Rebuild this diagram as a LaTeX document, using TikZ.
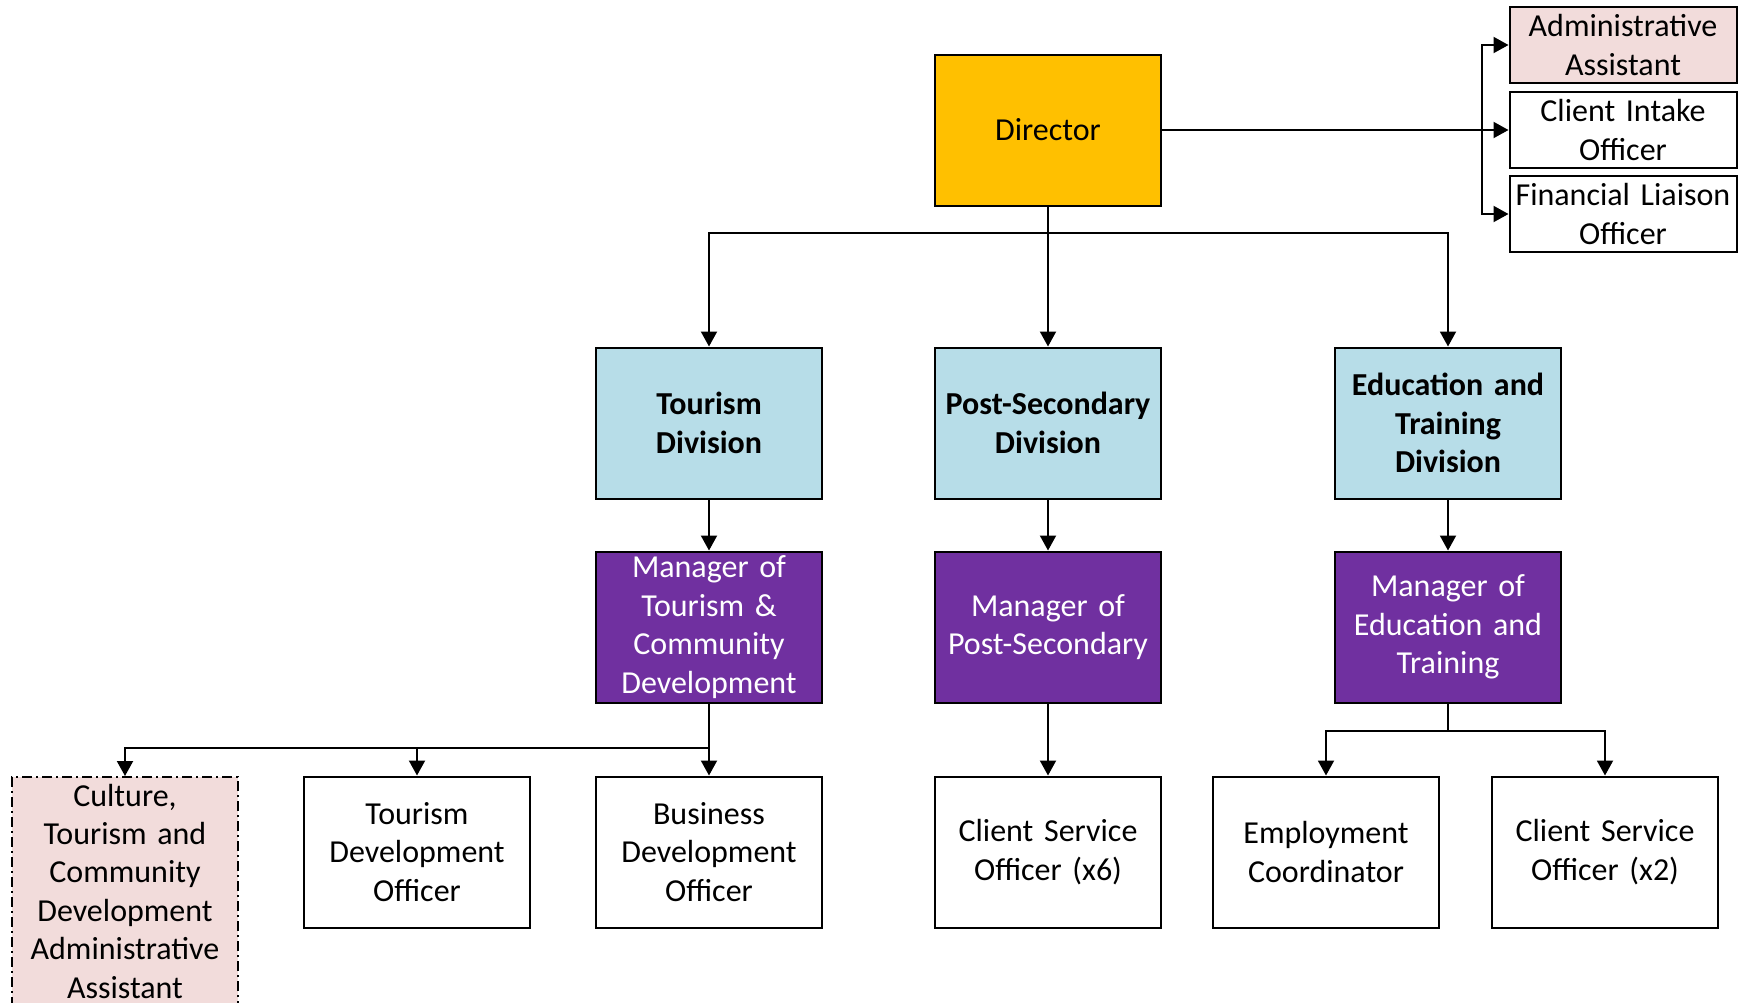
\documentclass[tikz,border=0pt]{standalone}
\usepackage{fontspec}
\setmainfont[WordSpace=0.8]{Carlito}
\usepackage{tikz}
\usetikzlibrary{arrows.meta}

\definecolor{dirgold}{HTML}{FFC000}
\definecolor{divblue}{HTML}{B7DDE8}
\definecolor{mgrpurple}{HTML}{7030A0}
\definecolor{asstpink}{HTML}{F2DCDB}

\begin{document}
\begin{tikzpicture}[x=0.5pt, y=-0.5pt,
    box/.style={draw=black, line width=1pt, minimum width=113pt, minimum height=75.5pt, text width=110pt, align=center, inner sep=0pt, font=\fontsize{16}{19.2}\selectfont},
    sidebox/.style={box, minimum width=113.5pt, minimum height=38pt},
    division/.style={box, fill=divblue, font=\fontsize{16}{19.2}\selectfont\bfseries},
    manager/.style={box, fill=mgrpurple, text=white},
    arr/.style={-{Triangle[length=7.5pt, width=8pt]}, line width=1pt}]
    \clip (0, 0) rectangle (1739, 1002);

    %Nodes
    \node[box, fill=dirgold] at (1048, 130) (dir) {Director};
    \node[sidebox, fill=asstpink] at (1623, 45) (admin) {Administrative\\Assistant};
    \node[sidebox] at (1623, 130) (intake) {Client Intake\\Officer};
    \node[sidebox] at (1623, 214) (fin) {Financial Liaison\\Officer};
    \node[division] at (709, 423) (tdiv) {Tourism\\Division};
    \node[division] at (1048, 423) (pdiv) {Post-Secondary\\Division};
    \node[division] at (1448, 423) (ediv) {Education and\\Training\\Division};
    \node[manager] at (709, 627) (tmgr) {Manager of\\Tourism \&\\Community\\Development};
    \node[manager] at (1048, 627) (pmgr) {Manager of\\Post-Secondary};
    \node[manager] at (1448, 627) (emgr) {Manager of\\Education and\\Training};
    \node[box, fill=asstpink, dash pattern=on 5pt off 2pt on 1pt off 2pt, minimum height=114pt] at (125, 891) (culture) {Culture,\\Tourism and\\Community\\Development\\Administrative\\Assistant};
    \node[box] at (417, 852) (tdev) {Tourism\\Development\\Officer};
    \node[box] at (709, 852) (bdev) {Business\\Development\\Officer};
    \node[box] at (1048, 852) (cso6) {Client Service\\Officer (x6)};
    \node[box] at (1326, 852) (emp) {Employment\\Coordinator};
    \node[box] at (1605, 852) (cso2) {Client Service\\Officer (x2)};

    %Branch points
    \coordinate (rbr) at (1482, 130);
    \coordinate (dbr) at (1048, 233);
    \coordinate (tbr) at (709, 748);
    \coordinate (ebr) at (1448, 731);

    %Lines
    \draw[arr] (dir) -- (intake);
    \draw[arr] (rbr) |- (admin);
    \draw[arr] (rbr) |- (fin);
    \draw[arr] (dir) -- (pdiv);
    \draw[arr] (dbr) -| (tdiv);
    \draw[arr] (dbr) -| (ediv);
    \draw[arr] (tdiv) -- (tmgr);
    \draw[arr] (pdiv) -- (pmgr);
    \draw[arr] (ediv) -- (emgr);
    \draw[arr] (tmgr) -- (bdev);
    \draw[arr] (tbr) -| (tdev);
    \draw[arr] (tbr) -| (culture);
    \draw[arr] (pmgr) -- (cso6);
    \draw[line width=1pt] (emgr) -- (ebr);
    \draw[arr] (ebr) -| (emp);
    \draw[arr] (ebr) -| (cso2);
\end{tikzpicture}
\end{document}
